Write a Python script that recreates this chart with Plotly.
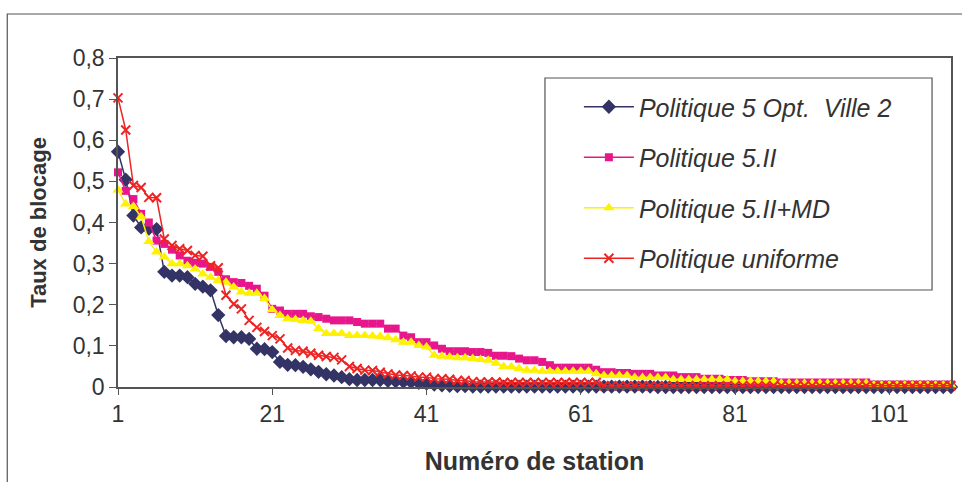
import plotly.graph_objects as go

stations = list(range(1, 110))

opt_ville2 = [
    0.572, 0.504, 0.417, 0.388, 0.385, 0.384, 0.280, 0.271, 0.271, 0.267,
    0.251, 0.244, 0.235, 0.175, 0.124, 0.121, 0.121, 0.117, 0.093, 0.092,
    0.085, 0.061, 0.054, 0.053, 0.049, 0.043, 0.037, 0.031, 0.028, 0.024,
    0.019, 0.017, 0.017, 0.017, 0.017, 0.015, 0.014, 0.013, 0.012, 0.010,
    0.008, 0.006, 0.004, 0.003, 0.002, 0.002, 0.001, 0.001, 0.001, 0.001,
    0.001, 0.001, 0.001, 0.001, 0.001, 0.001, 0.001, 0.001, 0.001, 0.001,
    0.001, 0.001, 0.001, 0.001, 0.001, 0.001, 0.001, 0.001, 0.001, 0.001,
    0.0, 0.0, 0.0, 0.0, 0.0, 0.0, 0.0, 0.0, 0.0, 0.0,
    0.0, 0.0, 0.0, 0.0, 0.0, 0.0, 0.0, 0.0, 0.0, 0.0,
    0.0, 0.0, 0.0, 0.0, 0.0, 0.0, 0.0, 0.0, 0.0, 0.0,
    0.0, 0.0, 0.0, 0.0, 0.0, 0.0, 0.0, 0.0, 0.0,
]

pol_5ii = [
    0.522, 0.477, 0.457, 0.421, 0.400, 0.356, 0.348, 0.334, 0.320, 0.307,
    0.302, 0.300, 0.292, 0.280, 0.262, 0.255, 0.253, 0.246, 0.239, 0.222,
    0.190, 0.186, 0.178, 0.178, 0.178, 0.172, 0.170, 0.166, 0.162, 0.162,
    0.162, 0.158, 0.154, 0.154, 0.154, 0.142, 0.142, 0.125, 0.121, 0.109,
    0.109, 0.101, 0.093, 0.087, 0.087, 0.087, 0.085, 0.085, 0.083, 0.076,
    0.076, 0.075, 0.069, 0.065, 0.065, 0.061, 0.053, 0.047, 0.047, 0.047,
    0.047, 0.047, 0.042, 0.036, 0.036, 0.034, 0.034, 0.032, 0.032, 0.032,
    0.028, 0.028, 0.028, 0.024, 0.024, 0.024, 0.020, 0.020, 0.020, 0.017,
    0.017, 0.017, 0.014, 0.014, 0.014, 0.014, 0.011, 0.011, 0.011, 0.011,
    0.011, 0.011, 0.011, 0.011, 0.011, 0.011, 0.011, 0.011, 0.006, 0.006,
    0.006, 0.006, 0.006, 0.006, 0.006, 0.006, 0.006, 0.006, 0.006,
]

pol_5ii_md = [
    0.479, 0.445, 0.439, 0.414, 0.354, 0.328, 0.316, 0.300, 0.300, 0.295,
    0.287, 0.275, 0.267, 0.259, 0.255, 0.243, 0.231, 0.228, 0.228, 0.215,
    0.188, 0.174, 0.166, 0.164, 0.162, 0.160, 0.142, 0.130, 0.130, 0.130,
    0.125, 0.125, 0.125, 0.124, 0.123, 0.120, 0.115, 0.109, 0.109, 0.101,
    0.097, 0.077, 0.075, 0.073, 0.071, 0.071, 0.069, 0.067, 0.065, 0.058,
    0.050, 0.049, 0.045, 0.041, 0.041, 0.038, 0.038, 0.038, 0.038, 0.038,
    0.038, 0.038, 0.032, 0.028, 0.028, 0.028, 0.028, 0.023, 0.023, 0.023,
    0.023, 0.023, 0.018, 0.018, 0.018, 0.018, 0.018, 0.018, 0.018, 0.018,
    0.014, 0.014, 0.014, 0.014, 0.014, 0.014, 0.009, 0.009, 0.009, 0.009,
    0.009, 0.009, 0.009, 0.009, 0.009, 0.009, 0.009, 0.009, 0.005, 0.005,
    0.005, 0.005, 0.005, 0.005, 0.005, 0.005, 0.005, 0.005, 0.005,
]

pol_uniforme = [
    0.703, 0.625, 0.490, 0.485, 0.461, 0.460, 0.360, 0.344, 0.336, 0.332,
    0.320, 0.318, 0.295, 0.290, 0.223, 0.202, 0.190, 0.162, 0.145, 0.135,
    0.125, 0.117, 0.095, 0.089, 0.087, 0.082, 0.077, 0.074, 0.072, 0.066,
    0.050, 0.045, 0.041, 0.040, 0.036, 0.032, 0.029, 0.028, 0.027, 0.024,
    0.024, 0.020, 0.020, 0.019, 0.016, 0.016, 0.013, 0.012, 0.012, 0.012,
    0.011, 0.011, 0.011, 0.011, 0.011, 0.011, 0.011, 0.011, 0.011, 0.011,
    0.011, 0.011, 0.011, 0.003, 0.003, 0.003, 0.003, 0.003, 0.003, 0.003,
    0.003, 0.003, 0.003, 0.003, 0.003, 0.003, 0.003, 0.003, 0.003, 0.003,
    0.003, 0.003, 0.003, 0.003, 0.003, 0.003, 0.003, 0.003, 0.003, 0.003,
    0.003, 0.003, 0.003, 0.003, 0.003, 0.003, 0.003, 0.003, 0.003, 0.003,
    0.003, 0.003, 0.003, 0.003, 0.003, 0.003, 0.003, 0.003, 0.003,
]

series_names = ["Politique 5 Opt.  Ville 2", "Politique 5.II",
                "Politique 5.II+MD", "Politique uniforme"]

x_tickvals = [1, 21, 41, 61, 81, 101]
y_tickvals = [0, 0.1, 0.2, 0.3, 0.4, 0.5, 0.6, 0.7, 0.8]
y_ticktext = ["0", "0,1", "0,2", "0,3", "0,4", "0,5", "0,6", "0,7", "0,8"]

FONT = "Liberation Sans, Arial, sans-serif"
TXT = "#333333"

fig = go.Figure()
styles = [
    dict(color="#333366", symbol="diamond", size=11, lw=0),
    dict(color="#E8168C", symbol="square", size=8, lw=0),
    dict(color="#FFF200", symbol="triangle-up", size=10, lw=0),
    dict(color="#EE2424", symbol="x-thin", size=9, lw=2),
]
for i, (vals, name, st) in enumerate(zip(
        [opt_ville2, pol_5ii, pol_5ii_md, pol_uniforme], series_names, styles)):
    marker = dict(color=st["color"], symbol=st["symbol"], size=st["size"])
    if st["symbol"] == "x-thin":
        marker["line"] = dict(color=st["color"], width=st["lw"])
    fig.add_trace(go.Scatter(
        x=stations, y=vals, name=name, mode="lines+markers",
        line=dict(color=st["color"], width=1.5), marker=marker,
        cliponaxis=False, legendgroup=f"g{i}",
    ))

L, R, T, B = 118, 9, 58, 95
W, H = 962, 482
pw = W - L - R
ph = H - T - B


def px_x(p):
    return (p - L) / pw


def px_y(p):
    return (H - B - p) / ph


fig.update_layout(
    width=W, height=H,
    margin=dict(l=L, r=R, t=T, b=B),
    paper_bgcolor="white", plot_bgcolor="white",
    font=dict(family=FONT, color=TXT, size=22),
    showlegend=True,
    legend=dict(
        x=px_x(580), y=px_y(84), xanchor="left", yanchor="top",
        bgcolor="rgba(0,0,0,0)", borderwidth=0,
        font=dict(family=FONT, size=25, color=TXT, style="italic"),
        tracegroupgap=15, traceorder="grouped", itemwidth=50,
    ),
    xaxis=dict(
        range=[1, 109], tickvals=x_tickvals, ticks="outside", ticklen=6,
        tickcolor="#555555", showline=True, linecolor="#555555", linewidth=1.5,
        mirror=True, showgrid=False, zeroline=False,
        tickfont=dict(family=FONT, size=23, color=TXT),
        title=dict(text="Numéro de station", standoff=26,
                   font=dict(family=FONT, size=25, color=TXT, weight="bold")),
    ),
    yaxis=dict(
        range=[0, 0.8], tickvals=y_tickvals, ticktext=y_ticktext,
        ticks="outside", ticklen=7,
        tickcolor="#555555", showline=True, linecolor="#555555", linewidth=1.5,
        mirror=True, showgrid=False, zeroline=False,
        tickfont=dict(family=FONT, size=23, color=TXT),
        title=dict(text="Taux de blocage", standoff=20,
                   font=dict(family=FONT, size=22, color=TXT, weight="bold")),
    ),
    shapes=[
        dict(type="rect", xref="paper", yref="paper",
             x0=px_x(7), x1=px_x(990), y0=px_y(520), y1=px_y(14),
             line=dict(color="#555555", width=1.2), fillcolor="rgba(0,0,0,0)",
             layer="below"),
        dict(type="rect", xref="paper", yref="paper",
             x0=px_x(546), x1=px_x(934), y0=px_y(290), y1=px_y(78),
             line=dict(color="#555555", width=1.2), fillcolor="white",
             layer="below"),
    ],
)

fig.write_html("out.html", config={"displayModeBar": False},
               post_script="document.body.style.margin='0';")
